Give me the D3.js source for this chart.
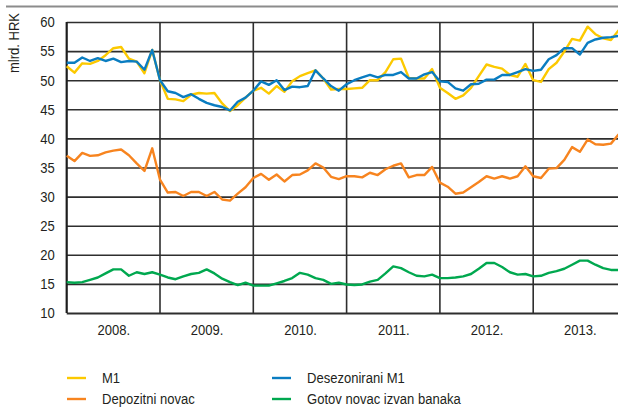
<!DOCTYPE html>
<html>
<head>
<meta charset="utf-8">
<script src="https://cdn.jsdelivr.net/npm/d3@7"></script>
<style>
  body { margin: 0; background: #fff; }
  svg { display: block; font-family: "Liberation Sans", Arial, sans-serif; }
</style>
</head>
<body>
<div id="chart"></div>
<script>
// mjesečni podaci, siječanj 2008. - prosinac 2013.
const years = [2008, 2009, 2010, 2011, 2012, 2013];
const yTicks = [10, 15, 20, 25, 30, 35, 40, 45, 50, 55, 60];

const m1 = [
  52.4, 51.3, 52.9, 52.8, 53.3, 54.3, 55.5, 55.7, 53.7, 53.2, 51.2, 55.2,
  50.0, 46.8, 46.7, 46.4, 47.5, 47.8, 47.7, 47.8, 46.0, 44.7, 45.7, 47.0,
  48.2, 48.7, 47.7, 49.0, 48.0, 49.8, 50.7, 51.2, 51.7, 50.3, 48.4, 48.5,
  48.5, 48.6, 48.7, 50.0, 50.0, 51.4, 53.6, 53.7, 50.4, 50.3, 50.3, 51.9,
  48.7, 47.8, 46.8, 47.4, 48.7, 50.7, 52.7, 52.3, 52.0, 50.9, 50.6, 52.8,
  50.0, 49.7, 51.9, 53.0, 54.9, 57.1, 56.8, 59.2, 57.9, 57.2, 56.9, 58.6
];
const m1Desez = [
  53.0, 53.0, 53.9, 53.3, 53.8, 53.3, 53.7, 53.1, 53.3, 53.2, 51.8, 55.2,
  50.0, 48.1, 47.8, 47.1, 47.6, 46.8, 46.1, 45.7, 45.4, 44.8, 46.3, 47.0,
  48.2, 49.8, 49.2, 50.0, 48.3, 48.9, 48.8, 49.0, 51.7, 50.3, 49.0, 48.2,
  49.3, 50.0, 50.5, 50.9, 50.5, 50.9, 50.9, 51.4, 50.3, 50.3, 51.0, 51.4,
  49.8, 49.7, 48.6, 48.2, 49.3, 49.4, 50.1, 50.1, 50.9, 50.9, 51.4, 51.9,
  51.6, 51.8, 53.6, 54.3, 55.5, 55.5, 54.4, 56.4, 57.0, 57.3, 57.4, 57.6
];
const depozitni = [
  37.0, 36.1, 37.5, 37.0, 37.1, 37.6, 37.9, 38.1, 37.1, 35.7, 34.4, 38.3,
  32.9, 30.7, 30.8, 30.1, 30.8, 30.8, 30.1, 30.8, 29.5, 29.3, 30.5, 31.6,
  33.2, 33.9, 32.9, 33.8, 32.6, 33.7, 33.8, 34.5, 35.7, 35.0, 33.4, 33.0,
  33.5, 33.5, 33.3, 34.1, 33.7, 34.7, 35.3, 35.7, 33.3, 33.7, 33.7, 35.1,
  32.4, 31.7, 30.5, 30.7, 31.6, 32.5, 33.5, 33.1, 33.5, 33.1, 33.5, 35.2,
  33.5, 33.2, 34.8, 34.9, 36.3, 38.5, 37.7, 39.8, 39.0, 38.9, 39.1, 40.7
];
const gotovNovac = [
  15.3, 15.2, 15.3, 15.7, 16.1, 16.8, 17.5, 17.5, 16.4, 17.0, 16.7, 17.0,
  16.6, 16.1, 15.8, 16.3, 16.7, 16.9, 17.5, 16.8, 15.9, 15.3, 14.8, 15.2,
  14.7, 14.7, 14.7, 15.1, 15.5, 16.0, 16.9, 16.6, 16.0, 15.7, 15.0, 15.2,
  14.9, 14.8, 14.9, 15.4, 15.7, 16.8, 18.0, 17.7, 17.0, 16.4, 16.3, 16.6,
  16.0, 16.0, 16.1, 16.3, 16.7, 17.6, 18.6, 18.6, 17.9, 17.0, 16.6, 16.7,
  16.3, 16.4, 16.9, 17.2, 17.6, 18.3, 19.0, 19.0, 18.3, 17.7, 17.4, 17.4
];

const seriesNames = ["M1", "Desezonirani M1", "Depozitni novac", "Gotov novac izvan banaka"];
const seriesColors = ["#fcc900", "#0a7dc1", "#f7841f", "#00a84f"];
const seriesValues = [m1, m1Desez, depozitni, gotovNovac];

const WIDTH = 618, HEIGHT = 410;
const margin = { top: 22, left: 66.7 };
const plotBottom = 313;
const yearWidth = 93.3;
const SQUEEZE = 0.87; // uski font kao u originalu

const svg = d3.select("#chart").append("svg")
  .attr("width", WIDTH)
  .attr("height", HEIGHT);

// x: indeks mjeseca (0 = sij. 2008.)
const xScale = d3.scaleLinear()
  .domain([0, years.length * 12])
  .range([margin.left, margin.left + yearWidth * years.length]);

const yScale = d3.scaleLinear()
  .domain([10, 60])
  .range([plotBottom, margin.top]);

// gornja siva crta
svg.append("line")
  .attr("x1", 6).attr("x2", WIDTH)
  .attr("y1", 6.5).attr("y2", 6.5)
  .attr("stroke", "#8c8c8c").attr("stroke-width", 2);

// horizontalna mreža + oznake osi y
const yAxis = svg.append("g")
  .attr("transform", `translate(${margin.left},0)`)
  .call(d3.axisLeft(yScale)
    .tickValues(yTicks)
    .tickSize(-(WIDTH - margin.left))
    .tickPadding(12)
    .tickFormat(d3.format("d")));
yAxis.select(".domain").remove();
yAxis.selectAll(".tick line")
  .attr("stroke", "#2e2e2e")
  .attr("stroke-width", (d) => d === 10 ? 2.2 : 1.6);
yAxis.selectAll(".tick text")
  .attr("fill", "#231f20")
  .attr("font-size", "15px")
  .attr("x", -12 / SQUEEZE)
  .attr("transform", `scale(${SQUEEZE},1)`);

// vertikalne crte godina
svg.append("g").selectAll("line")
  .data(d3.range(0, years.length + 1))
  .join("line")
  .attr("x1", (d) => xScale(d * 12))
  .attr("x2", (d) => xScale(d * 12))
  .attr("y1", margin.top)
  .attr("y2", plotBottom)
  .attr("stroke", (d) => d === 0 ? "#1e1e1e" : "#2e2e2e")
  .attr("stroke-width", (d) => d === 0 ? 2.2 : 1.6);

// oznake godina
const xAxis = svg.append("g")
  .attr("transform", `translate(0,${plotBottom})`)
  .call(d3.axisBottom(xScale)
    .tickValues(years.map((y, i) => i * 12 + 6))
    .tickSize(0)
    .tickPadding(11)
    .tickFormat((d, i) => years[i] + "."));
xAxis.select(".domain").remove();
xAxis.selectAll(".tick text")
  .attr("fill", "#231f20")
  .attr("font-size", "15px")
  .attr("transform", `scale(${SQUEEZE},1)`);

// naslov osi y
svg.append("text")
  .attr("transform", `translate(19,43) rotate(-90) scale(${SQUEEZE},1)`)
  .attr("text-anchor", "middle")
  .attr("fill", "#231f20")
  .attr("font-size", "15px")
  .text("mlrd. HRK");

// linije serija
const line = d3.line()
  .x((d, i) => xScale(i))
  .y((d) => yScale(d));

svg.append("g").selectAll("path")
  .data(seriesValues)
  .join("path")
  .attr("d", line)
  .attr("fill", "none")
  .attr("stroke", (d, i) => seriesColors[i])
  .attr("stroke-width", 2.4)
  .attr("stroke-linejoin", "round");

// legenda
const legendPos = [
  { x: 67, y: 378 }, { x: 272, y: 378 },
  { x: 67, y: 399 }, { x: 272, y: 399 }
];
const legend = svg.append("g").selectAll("g")
  .data(seriesNames)
  .join("g")
  .attr("transform", (d, i) => `translate(${legendPos[i].x},${legendPos[i].y})`);
legend.append("line")
  .attr("x1", 0).attr("x2", 19)
  .attr("stroke", (d, i) => seriesColors[i])
  .attr("stroke-width", 2.4);
legend.append("text")
  .attr("x", 35 / SQUEEZE)
  .attr("dy", "0.35em")
  .attr("transform", `scale(${SQUEEZE},1)`)
  .attr("fill", "#231f20")
  .attr("font-size", "15px")
  .text((d) => d);
</script>
</body>
</html>
